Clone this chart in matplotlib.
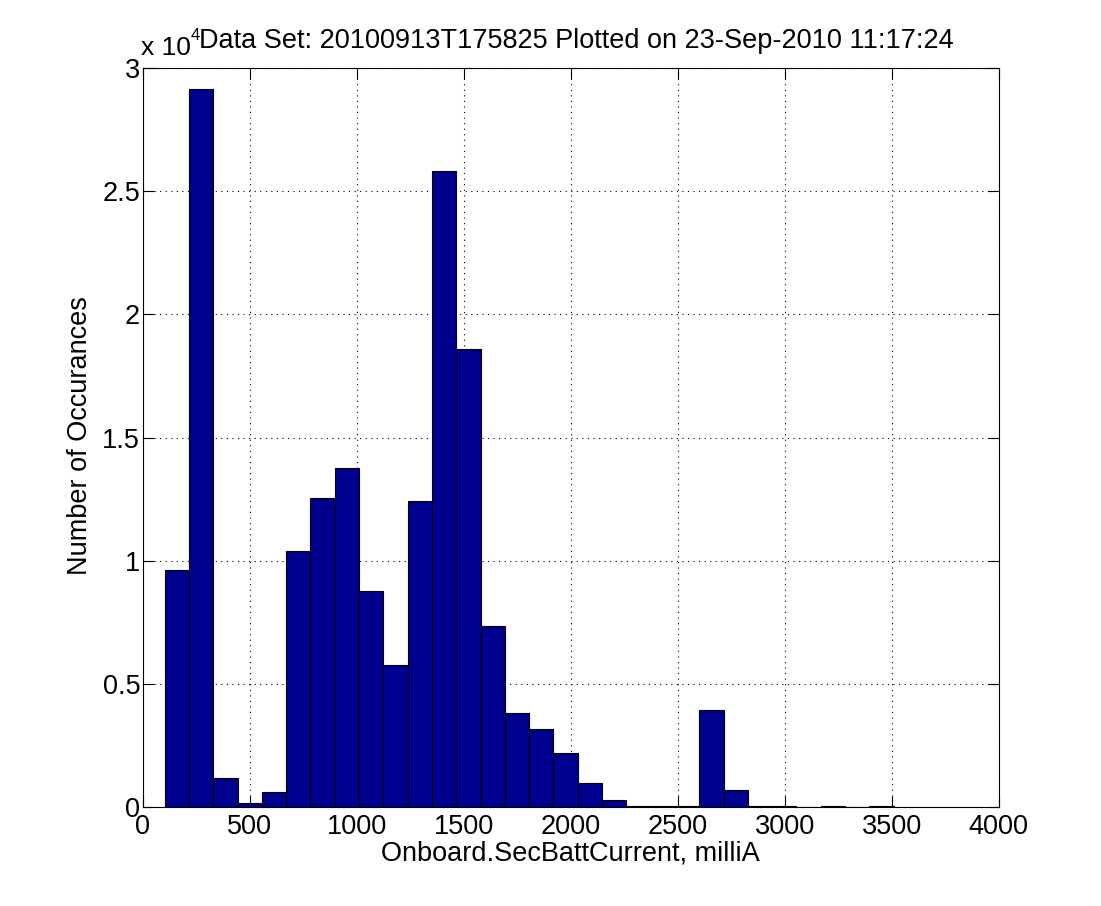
import numpy as np
import matplotlib
matplotlib.use("Agg")
import matplotlib.pyplot as plt
from matplotlib.ticker import FixedLocator, FuncFormatter

# ---- data ----
bin_start = 101.0
bin_stop = 3510.0
n_bins = 30
counts = [9620, 29150, 1150, 140, 580, 10390, 12540, 13760, 8750, 5740,
          12410, 25830, 18590, 7340, 3790, 3150, 2180, 960, 260, 25,
          25, 25, 3930, 680, 15, 15, 0, 15, 0, 15]
x_ticks = [0, 500, 1000, 1500, 2000, 2500, 3000, 3500, 4000]
y_ticks = [0, 5000, 10000, 15000, 20000, 25000, 30000]
title = "Data Set: 20100913T175825 Plotted on 23-Sep-2010 11:17:24"
xlabel = "Onboard.SecBattCurrent, milliA"
ylabel = "Number of Occurances"

edges = np.linspace(bin_start, bin_stop, n_bins + 1)

plt.rcParams['font.family'] = ['Liberation Sans', 'DejaVu Sans']
FS = 19.5

W, H = 1101, 906
fig = plt.figure(figsize=(W/100, H/100), dpi=100)
ax = fig.add_axes([143/W, 1 - 806.7/H, (998.5-143)/W, (806.7-68.3)/H])

ax.bar(edges[:-1], counts, width=np.diff(edges), align='edge',
       color='#00008F', edgecolor='black', linewidth=0.8, zorder=2)

ax.set_xlim(0, 4000)
ax.set_ylim(0, 30000)
ax.xaxis.set_major_locator(FixedLocator(x_ticks))
ax.yaxis.set_major_locator(FixedLocator(y_ticks))
ax.yaxis.set_major_formatter(FuncFormatter(lambda v, p: '%g' % (v / 1e4)))
ax.grid(True, linestyle=(0, (1, 4)), color='black', linewidth=0.8, zorder=0)
ax.set_axisbelow(True)
ax.tick_params(direction='in', length=8, width=0.8, top=True, right=True,
               labelsize=FS)
ax.tick_params(axis='x', pad=5)
ax.tick_params(axis='y', pad=2)
for s in ax.spines.values():
    s.set_linewidth(0.8)

fig.text(570/W, 1 - 861/H, xlabel, fontsize=FS, ha='center', va='baseline')
fig.text(80/W, 1 - 436/H, ylabel, fontsize=FS, ha='center', va='center',
         rotation=90)
fig.text(199/W, 1 - 48/H, title, fontsize=FS, ha='left', va='baseline')
fig.text(141/W, 1 - 55/H, "x 10", fontsize=19, ha='left', va='baseline')
fig.text(191/W, 1 - 40/H, "4", fontsize=12, ha='left', va='baseline')

fig.savefig("out.png", dpi=100)
